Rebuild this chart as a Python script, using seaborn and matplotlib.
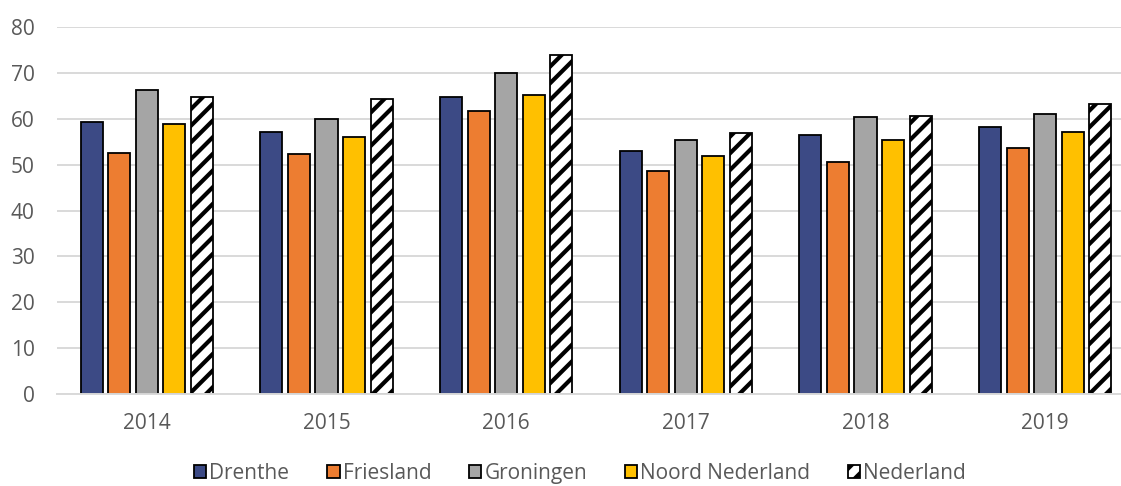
import pandas as pd
import matplotlib.pyplot as plt
import seaborn as sns

# Waarden per jaar en regio
years = ["2014", "2015", "2016", "2017", "2018", "2019"]
regions = ["Drenthe", "Friesland", "Groningen", "Noord Nederland", "Nederland"]
drenthe = [59.3, 57.2, 64.8, 52.9, 56.5, 58.2]
friesland = [52.5, 52.4, 61.7, 48.6, 50.5, 53.7]
groningen = [66.3, 59.9, 69.9, 55.3, 60.4, 61.0]
noord_nederland = [58.8, 56.1, 65.1, 51.9, 55.3, 57.2]
nederland = [64.8, 64.3, 73.9, 57.0, 60.7, 63.2]
colors = ["#3C4A85", "#ED7D31", "#A5A5A5", "#FFC000", "#FFFFFF"]

series = [drenthe, friesland, groningen, noord_nederland, nederland]
rows = []
for region, vals in zip(regions, series):
    for year, v in zip(years, vals):
        rows.append({"jaar": year, "regio": region, "waarde": v})
df = pd.DataFrame(rows)

sns.set_style("white")
plt.rcParams["font.family"] = ["Open Sans", "DejaVu Sans"]
plt.rcParams["hatch.linewidth"] = 3.0
plt.rcParams["hatch.color"] = "black"

fig = plt.figure(figsize=(11.21, 4.86), dpi=100)
ax = fig.add_axes([57 / 1121, 1 - 394 / 486, (1135 - 57) / 1121, (394 - 27) / 486])

sns.barplot(data=df, x="jaar", y="waarde", hue="regio", hue_order=regions,
            palette=colors, width=0.766, gap=0.2, edgecolor="black",
            linewidth=1.3, saturation=1, legend=False, ax=ax)

# Nederland: wit met zwarte arcering
for bar in ax.containers[4]:
    bar.set_facecolor("white")
    bar.set_hatch("//")

ax.set_xlim(-0.5, 5.5)
ax.set_ylim(0, 80)
ax.set_yticks(range(0, 81, 10))
ax.set_xlabel("")
ax.set_ylabel("")
ax.yaxis.grid(True, color="#D9D9D9", linewidth=1.4)
ax.set_axisbelow(True)
for side in ["top", "right", "left"]:
    ax.spines[side].set_visible(False)
ax.spines["bottom"].set_color("#D9D9D9")
ax.spines["bottom"].set_linewidth(1.4)
ax.tick_params(axis="y", length=0, pad=16, labelsize=15, labelcolor="#595959")
ax.tick_params(axis="x", length=0, pad=14, labelsize=15, labelcolor="#595959")

fig.legend(handles=list(ax.containers), labels=regions, loc="center",
           bbox_to_anchor=(580 / 1121, 1 - 473 / 486), ncol=5, frameon=False,
           fontsize=15, labelcolor="#595959", handlelength=0.6, handleheight=0.6,
           handletextpad=0.15, columnspacing=1.8, borderpad=0.1)

fig.savefig("out.png", dpi=100)
